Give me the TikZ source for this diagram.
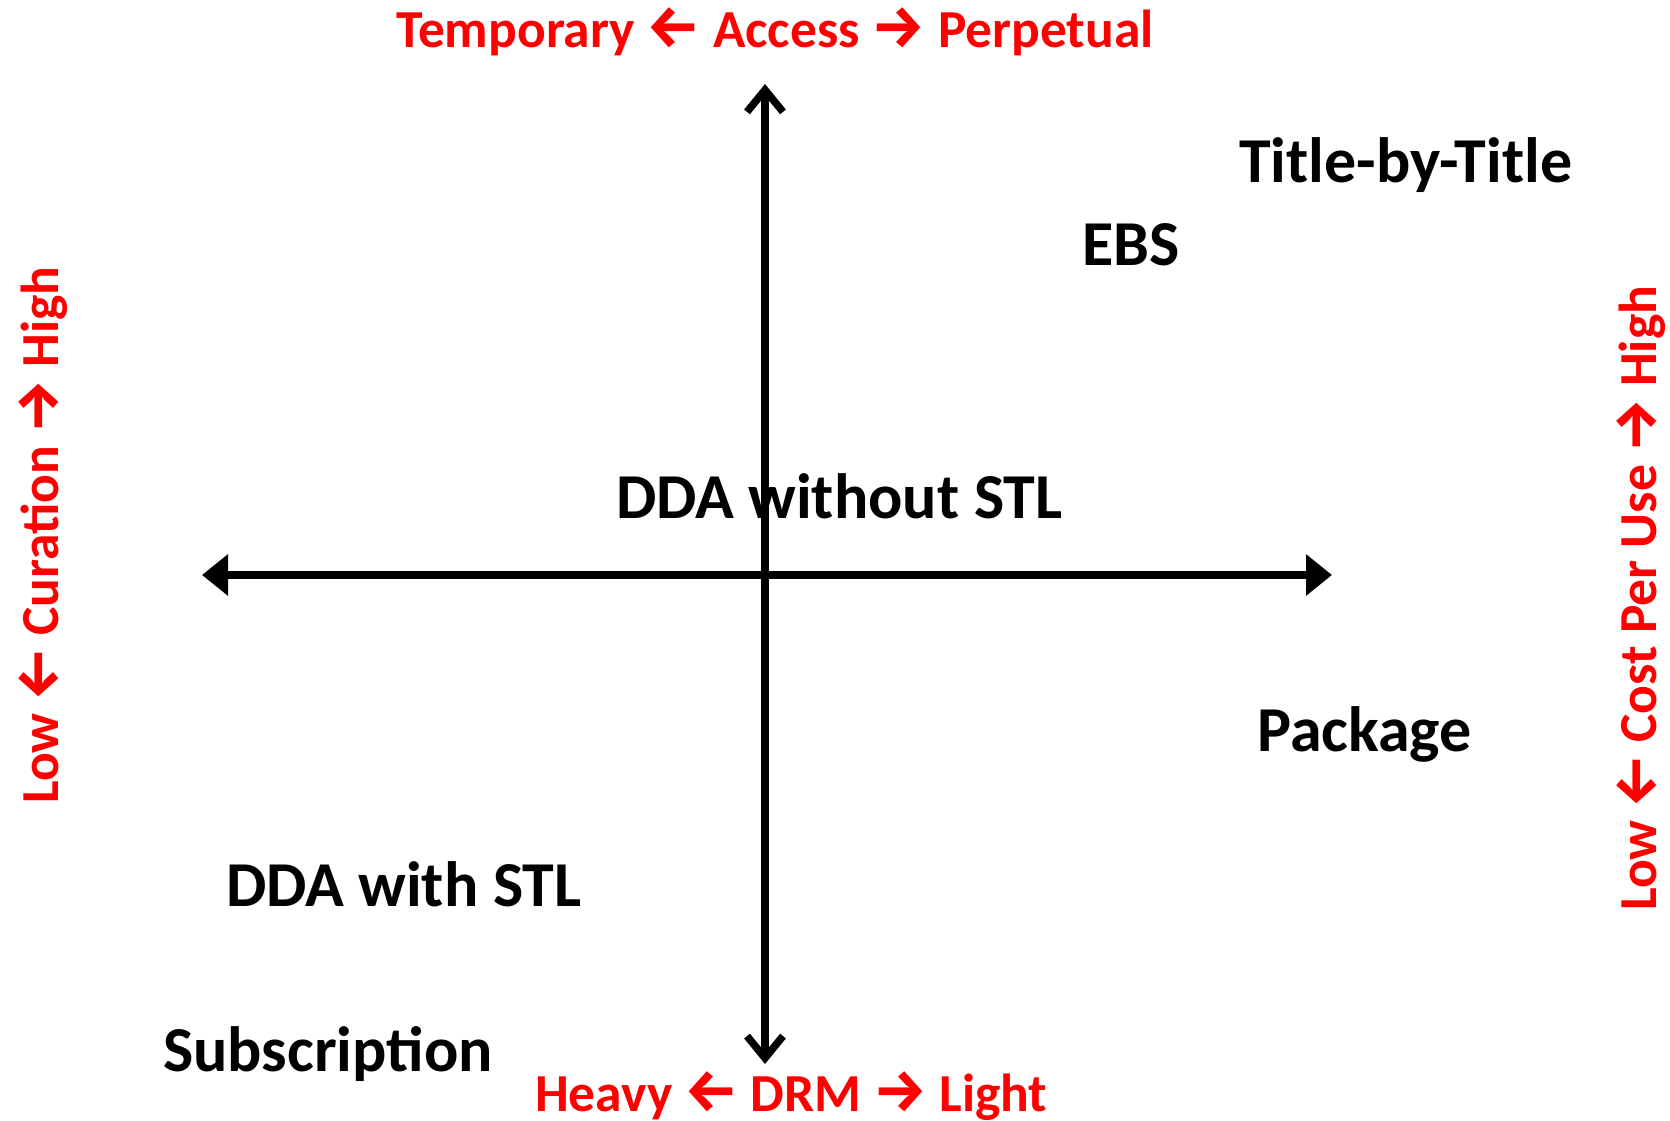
\documentclass[tikz,border=0pt]{standalone}
\usepackage{fontspec}
\setmainfont{Carlito}[BoldFont={* Bold}]
\newfontfamily\arrfont{Fira Sans}
\newcommand\arrL{{\fontsize{60}{60}\selectfont\arrfont ←}}
\newcommand\arrR{{\fontsize{60}{60}\selectfont\arrfont →}}
\usetikzlibrary{arrows.meta}
\definecolor{axred}{RGB}{255,0,0}
\tikzset{
  redlbl/.style={text=axred, font=\fontsize{53.5}{60}\selectfont\bfseries, inner sep=0pt, anchor=base west},
  blklbl/.style={text=black, font=\fontsize{64}{72}\selectfont\bfseries, inner sep=0pt, anchor=base west},
  vaxis/.style={line width=7.5pt, {Straight Barb[length=22pt,width=36pt]}-{Straight Barb[length=22pt,width=36pt]}},
  haxis/.style={line width=7.5pt, {Triangle[length=26pt,width=40pt]}-{Triangle[length=26pt,width=40pt]}}
}
\begin{document}
\begin{tikzpicture}[x=1pt,y=1pt]
\useasboundingbox (0,0) rectangle (1670,1120);
% axes
\coordinate (top) at (765,1036);
\coordinate (bottom) at (765,56);
\coordinate (left) at (202,545);
\coordinate (right) at (1332,545);
\draw[vaxis] (bottom) -- (top);
\draw[haxis] (left) -- (right);
% axis labels
\node[redlbl] (access) at (396,1072) {Temporary \arrL{} Access \arrR{} Perpetual};
\node[redlbl] (drm) at (535,9) {Heavy \arrL{} DRM \arrR{} Light};
\node[redlbl, rotate=90] (curation) at (58,316) {Low \arrL{} Curation \arrR{} High};
\node[redlbl, rotate=90] (cpu) at (1656,209) {Low \arrL{} Cost Per Use \arrR{} High};
% items
\node[blklbl] (tbt) at (1239,937) {Title-by-Title};
\node[blklbl] (ebs) at (1082,854) {EBS};
\node[blklbl] (ddano) at (616,601) {DDA without STL};
\node[blklbl] (pkg) at (1257,369) {Package};
\node[blklbl] (ddawith) at (226,214) {DDA with STL};
\node[blklbl] (sub) at (163,49) {Subscription};
\end{tikzpicture}
\end{document}
